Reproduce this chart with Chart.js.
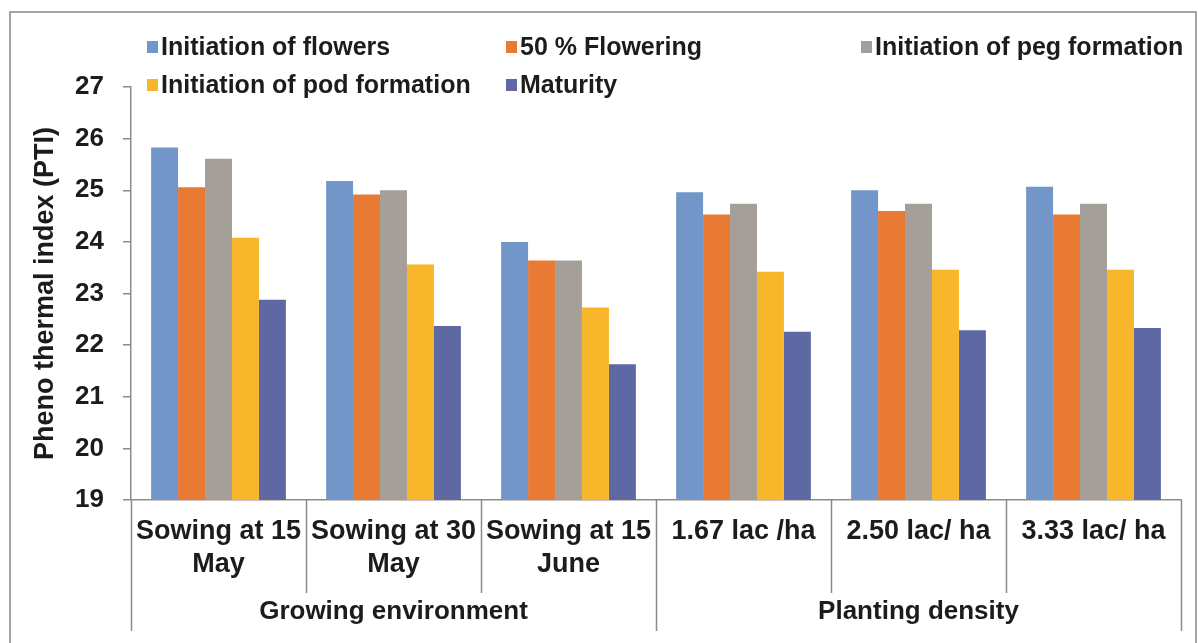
<!DOCTYPE html>
<html>
<head>
<meta charset="utf-8">
<script src="https://cdn.jsdelivr.net/npm/chart.js@4.4.1/dist/chart.umd.min.js"></script>
<style>
  html, body { margin: 0; padding: 0; background: #ffffff; }
  #wrap { width: 1198px; height: 643px; position: relative; }
</style>
</head>
<body>
<div id="wrap"><canvas id="c" width="1198" height="643"></canvas></div>
<script>
// ---- Data ----
const categories = [
  ['Sowing at 15', 'May'],
  ['Sowing at 30', 'May'],
  ['Sowing at 15', 'June'],
  '1.67 lac /ha',
  '2.50 lac/ ha',
  '3.33 lac/ ha'
];
const groupLabels = ['Growing environment', 'Planting density'];
const seriesNames = [
  'Initiation of flowers',
  '50 % Flowering',
  'Initiation of peg formation',
  'Initiation of pod formation',
  'Maturity'
];
const initiationOfFlowers   = [25.83, 25.18, 24.00, 24.96, 25.00, 25.07];
const fiftyPctFlowering     = [25.06, 24.92, 23.64, 24.53, 24.60, 24.53];
const initiationOfPeg       = [25.61, 25.00, 23.64, 24.74, 24.74, 24.74];
const initiationOfPod       = [24.08, 23.56, 22.73, 23.42, 23.46, 23.46];
const maturity              = [22.88, 22.37, 21.63, 22.26, 22.29, 22.33];
const yTicks = [19, 20, 21, 22, 23, 24, 25, 26, 27];
const yTitle = 'Pheno thermal index (PTI)';

const seriesValues = [initiationOfFlowers, fiftyPctFlowering, initiationOfPeg, initiationOfPod, maturity];
const colors = ['#7296C7', '#E97A33', '#A59F9A', '#F8B72A', '#5E69A4'];

const FONT = '"Liberation Sans", Arial, Helvetica, sans-serif';
const TEXT = '#1c1c1c';
const AXIS = '#8f8a86';

const framePlugin = {
  id: 'frame',
  beforeDraw(chart) {
    const ctx = chart.ctx;
    ctx.save();
    ctx.strokeStyle = '#a9a39e';
    ctx.lineWidth = 2;
    ctx.beginPath();
    ctx.moveTo(10, 660);
    ctx.lineTo(10, 12);
    ctx.lineTo(1196, 12);
    ctx.lineTo(1196, 660);
    ctx.stroke();
    ctx.restore();
  }
};

const legendPlugin = {
  id: 'gridLegend',
  afterDraw(chart) {
    const ctx = chart.ctx;
    const colX = [147, 506, 861];
    const rowY = [47, 85];
    ctx.save();
    ctx.font = 'bold 25px ' + FONT;
    ctx.textBaseline = 'middle';
    ctx.textAlign = 'left';
    chart.data.datasets.forEach((ds, i) => {
      const x = colX[i % 3];
      const y = rowY[Math.floor(i / 3)];
      ctx.fillStyle = ds.backgroundColor;
      ctx.fillRect(x, y - 6, 11, 12);
      ctx.fillStyle = TEXT;
      ctx.fillText(ds.label, x + 14, y + 1);
    });
    ctx.restore();
  }
};

const separatorPlugin = {
  id: 'separators',
  afterDraw(chart) {
    const xs = chart.scales.x;
    const ctx = chart.ctx;
    const n = xs.getLabels().length;
    const y0 = xs.top;
    ctx.save();
    ctx.strokeStyle = AXIS;
    ctx.lineWidth = 1.5;
    for (let i = 0; i <= n; i++) {
      let px;
      if (i === 0) px = xs.left;
      else if (i === n) px = xs.right;
      else px = (xs.getPixelForValue(i - 1) + xs.getPixelForValue(i)) / 2;
      const outer = (i === 0 || i === n || i === n / 2);
      const yEnd = outer ? 631 : 593;
      ctx.beginPath();
      ctx.moveTo(Math.round(px) + 0.5, y0);
      ctx.lineTo(Math.round(px) + 0.5, yEnd);
      ctx.stroke();
    }
    ctx.restore();
  }
};

const ctx = document.getElementById('c').getContext('2d');
new Chart(ctx, {
  type: 'bar',
  data: {
    labels: categories,
    datasets: seriesNames.map((name, i) => ({
      label: name,
      data: seriesValues[i],
      backgroundColor: colors[i],
      borderWidth: 0,
      categoryPercentage: 0.77,
      barPercentage: 1.0,
      xAxisID: 'x',
      yAxisID: 'y'
    }))
  },
  options: {
    responsive: false,
    animation: false,
    devicePixelRatio: 1,
    layout: { padding: { top: 87, right: 17, bottom: 15, left: 0 } },
    plugins: {
      legend: { display: false },
      tooltip: { enabled: false },
      title: { display: false }
    },
    scales: {
      x: {
        type: 'category',
        position: 'bottom',
        offset: true,
        grid: { display: false, drawTicks: false },
        border: { display: true, color: AXIS, width: 1.5 },
        ticks: {
          color: TEXT,
          font: { family: FONT, size: 27, weight: 'bold', lineHeight: 1.22 },
          padding: 15,
          maxRotation: 0,
          autoSkip: false
        },
        afterFit(s) { s.height = 81; }
      },
      x2: {
        type: 'category',
        position: 'bottom',
        labels: groupLabels,
        offset: true,
        grid: { display: false, drawTicks: false },
        border: { display: false },
        ticks: {
          color: TEXT,
          font: { family: FONT, size: 26, weight: 'bold', lineHeight: 1.22 },
          padding: 15,
          maxRotation: 0,
          autoSkip: false
        },
        afterFit(s) { s.height = 47; }
      },
      y: {
        type: 'linear',
        position: 'left',
        min: 19,
        max: 27,
        afterBuildTicks(s) { s.ticks = yTicks.map(v => ({ value: v })); },
        grid: { drawOnChartArea: false, drawTicks: true, tickLength: 8, color: AXIS, lineWidth: 1.5 },
        border: { display: true, color: AXIS, width: 1.5 },
        ticks: {
          color: TEXT,
          font: { family: FONT, size: 26, weight: 'bold' },
          padding: 19
        },
        title: {
          display: true,
          text: yTitle,
          color: TEXT,
          font: { family: FONT, size: 27, weight: 'bold', lineHeight: 1.2 },
          padding: { top: 29, bottom: 0 }
        },
        afterFit(s) { s.width = 131; }
      }
    }
  },
  plugins: [framePlugin, legendPlugin, separatorPlugin]
});
</script>
</body>
</html>
